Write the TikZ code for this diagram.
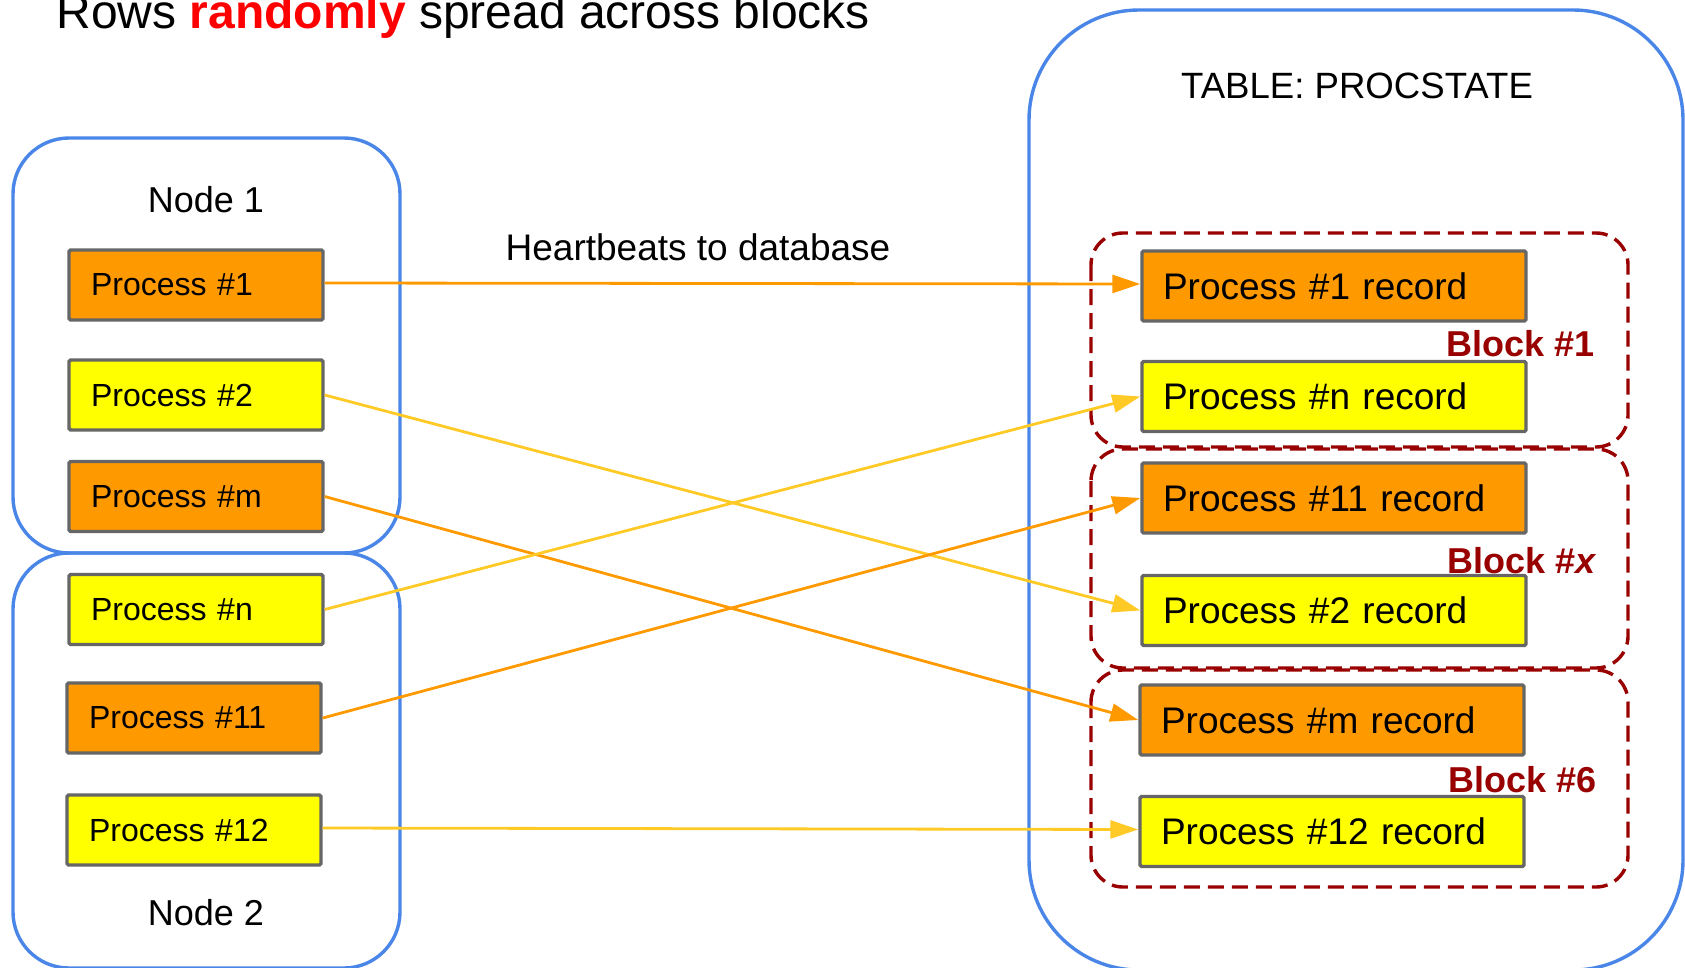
\documentclass[tikz,border=0pt]{standalone}
\usepackage{fontspec}
\setmainfont{Liberation Sans}
\usepackage{xcolor}
\usepackage{tikz}
\usetikzlibrary{arrows.meta}

\definecolor{procorange}{HTML}{FF9900}
\definecolor{procyellow}{HTML}{FFFF00}
\definecolor{lineyellow}{HTML}{FFC926}
\definecolor{hostblue}{HTML}{4A86E8}
\definecolor{blockred}{HTML}{990000}
\definecolor{edgegray}{HTML}{666666}

\begin{document}
\begin{tikzpicture}[x=0.5pt,y=-0.5pt,
    host/.style={draw=hostblue,line width=1.7pt,rounded corners=28pt},
    blk/.style={draw=blockred,line width=1.7pt,dash pattern=on 8pt off 4pt,rounded corners=16pt},
    proc/.style={draw=edgegray,line width=1.7pt,rounded corners=0.8pt,minimum height=35pt,
        text width=105pt,inner xsep=11pt,align=left,font=\fontsize{16}{19}\selectfont},
    rec/.style={proc,text width=171pt,inner xsep=10.5pt,font=\fontsize{18.5}{22}\selectfont},
    lbl/.style={anchor=base,inner sep=0pt,font=\fontsize{18}{21}\selectfont},
    blklbl/.style={anchor=base east,inner sep=0pt,text=blockred,font=\fontsize{18}{21}\selectfont\bfseries},
    beat/.style={-{Triangle[length=14pt,width=9pt]},line width=1.4pt},
  ]
    \useasboundingbox (0,0) rectangle (1685,968);

    % hosts and the table
    \draw[host] (13,138) rectangle (400,553);
    \draw[host] (13,553) rectangle (400,968);
    \draw[host,rounded corners=55pt] (1029,10) rectangle (1683,970);

    \node[anchor=base west,inner sep=0pt,font=\fontsize{24}{28}\selectfont] (title) at (56,29)
        {Rows \textcolor{red}{\textbf{randomly}} spread across blocks};
    \node[lbl] (node1) at (206,213) {Node 1};
    \node[lbl] (node2) at (206,925) {Node 2};
    \node[lbl,font=\fontsize{18.3}{21}\selectfont] (tbl) at (1357,99) {TABLE: PROCSTATE};
    \node[lbl,font=\fontsize{18.5}{22}\selectfont] (hb) at (698,261) {Heartbeats to database};

    % blocks
    \draw[blk] (1091,233) rectangle (1628,447);
    \draw[blk] (1091,449) rectangle (1628,668);
    \draw[blk] (1091,670) rectangle (1628,887);

    % processes
    \node[proc,fill=procorange] (p1) at (196,285) {Process \#1};
    \node[proc,fill=procyellow] (p2) at (196,395) {Process \#2};
    \node[proc,fill=procorange] (pm) at (196,496.5) {Process \#m};
    \node[proc,fill=procyellow] (pn) at (196,609.5) {Process \#n};
    \node[proc,fill=procorange] (p11) at (194,718) {Process \#11};
    \node[proc,fill=procyellow] (p12) at (194,830) {Process \#12};

    % records
    \node[rec,fill=procorange] (r1) at (1334,286) {Process \#1 record};
    \node[rec,fill=procyellow] (rn) at (1334,396.5) {Process \#n record};
    \node[rec,fill=procorange] (r11) at (1334,498) {Process \#11 record};
    \node[rec,fill=procyellow] (r2) at (1334,610.5) {Process \#2 record};
    \node[rec,fill=procorange] (rm) at (1332,720) {Process \#m record};
    \node[rec,fill=procyellow] (r12) at (1332,831.5) {Process \#12 record};

    % heartbeats
    \draw[beat,procorange] ([yshift=1pt]p1.east) -- ([yshift=1pt]r1.west);
    \draw[beat,lineyellow] (p2.east) -- (r2.west);
    \draw[beat,procorange] (pm.east) -- (rm.west);
    \draw[beat,lineyellow] (pn.east) -- (rn.west);
    \draw[beat,procorange] (p11.east) -- (r11.west);
    \draw[beat,lineyellow] ([yshift=1pt]p12.east) -- ([yshift=1pt]r12.west);

    \node[blklbl] (b1) at (1595,356) {Block \#1};
    \node[blklbl] (bx) at (1597,573) {Block \#\textit{x}};
    \node[blklbl] (b6) at (1597,792) {Block \#6};
\end{tikzpicture}
\end{document}
